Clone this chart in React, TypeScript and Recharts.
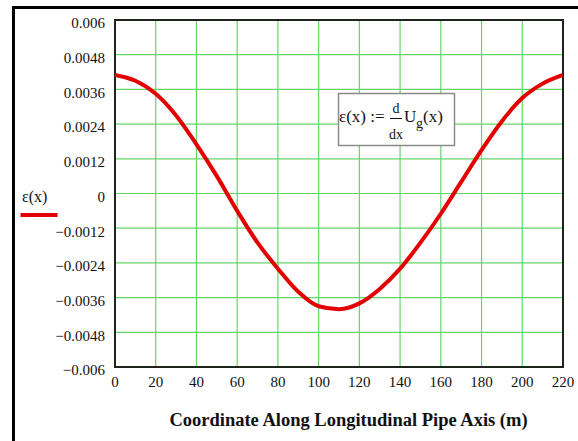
import { LineChart, Line, XAxis, YAxis, CartesianGrid, ReferenceArea } from 'recharts';

// values
const positions = [0, 10, 20, 30, 40, 50, 60, 70, 80, 90, 100, 110, 120, 130, 140, 150, 160, 170, 180, 190, 200, 210, 220];
const strain = [
  0.0041, 0.0039, 0.00345, 0.0027, 0.0017, 0.0006, -0.0006, -0.0017, -0.0026, -0.0034, -0.0039, -0.0040,
  -0.0038, -0.0033, -0.0026, -0.0017, -0.0007, 0.0004, 0.0015, 0.0025, 0.0033, 0.0038, 0.0041,
];
const xTicks = [0, 20, 40, 60, 80, 100, 120, 140, 160, 180, 200, 220];
const yTicks = [0.006, 0.0048, 0.0036, 0.0024, 0.0012, 0, -0.0012, -0.0024, -0.0036, -0.0048, -0.006];

const seriesName = 'ε(x)';
const xTitle = 'Coordinate Along Longitudinal Pipe Axis (m)';

const data = positions.map((x, i) => ({ x, eps: strain[i] }));

const serif = '"Liberation Serif", "Times New Roman", serif';
const fmtY = (v: number) => (v < 0 ? '\u2212' + String(-v) : String(v));

export default function App() {
  return (
    <div style={{ position: 'absolute', left: 0, top: 0, width: 578, height: 441, background: '#fff', fontFamily: serif }}>
      <LineChart
        width={578}
        height={441}
        data={data}
        margin={{ top: 20, right: 15, bottom: 0, left: 0 }}
        style={{ fontFamily: serif }}
      >
        <CartesianGrid stroke="#66d466" strokeWidth={1.2} />
        <XAxis
          dataKey="x"
          type="number"
          domain={[0, 220]}
          ticks={xTicks}
          height={74}
          axisLine={false}
          tickLine={false}
          tickMargin={3}
          tick={{ fill: '#111', fontSize: 15, fontFamily: serif }}
        />
        <YAxis
          type="number"
          domain={[-0.006, 0.006]}
          ticks={yTicks}
          width={115}
          axisLine={false}
          tickLine={false}
          tickMargin={4}
          tickFormatter={fmtY}
          tick={{ fill: '#111', fontSize: 15, fontFamily: serif, dy: 3 }}
        />
        <Line
          type="monotone"
          dataKey="eps"
          stroke="#e30000"
          strokeWidth={4}
          dot={false}
          isAnimationActive={false}
        />
        <ReferenceArea x1={0} x2={220} y1={-0.006} y2={0.006} fill="none" stroke="#1c241c" strokeWidth={2} ifOverflow="visible" />
      </LineChart>
      <svg width={578} height={441} style={{ position: 'absolute', left: 0, top: 0, pointerEvents: 'none' }}>
        <line x1={13.5} y1={7.5} x2={578} y2={7.5} stroke="#000" strokeWidth={3} />
        <line x1={13.5} y1={6} x2={13.5} y2={441} stroke="#000" strokeWidth={3} />
        <text x={22} y={202} fontFamily={serif} fontSize={16} fill="#111">{seriesName}</text>
        <line x1={20.5} y1={215} x2={57.5} y2={215} stroke="#e30000" strokeWidth={4} />
        <text x={348.5} y={426} textAnchor="middle" fontFamily={serif} fontSize={18.5} fontWeight="bold" fill="#111">
          {xTitle}
        </text>
        <rect x={338.5} y={93.5} width={116} height={52} fill="#fff" stroke="#8a8a8a" strokeWidth={1.5} />
        <g fontFamily={serif} fill="#111">
          <text x={339} y={122} fontSize={17}>ε(x) :=</text>
          <text x={396} y={113} fontSize={14} textAnchor="middle">d</text>
          <line x1={390} y1={118.5} x2={402} y2={118.5} stroke="#111" strokeWidth={1} />
          <text x={396} y={139} fontSize={14} textAnchor="middle">dx</text>
          <text x={404} y={122} fontSize={17}>U</text>
          <text x={416} y={128} fontSize={14}>g</text>
          <text x={423} y={122} fontSize={17}>(x)</text>
        </g>
      </svg>
    </div>
  );
}
